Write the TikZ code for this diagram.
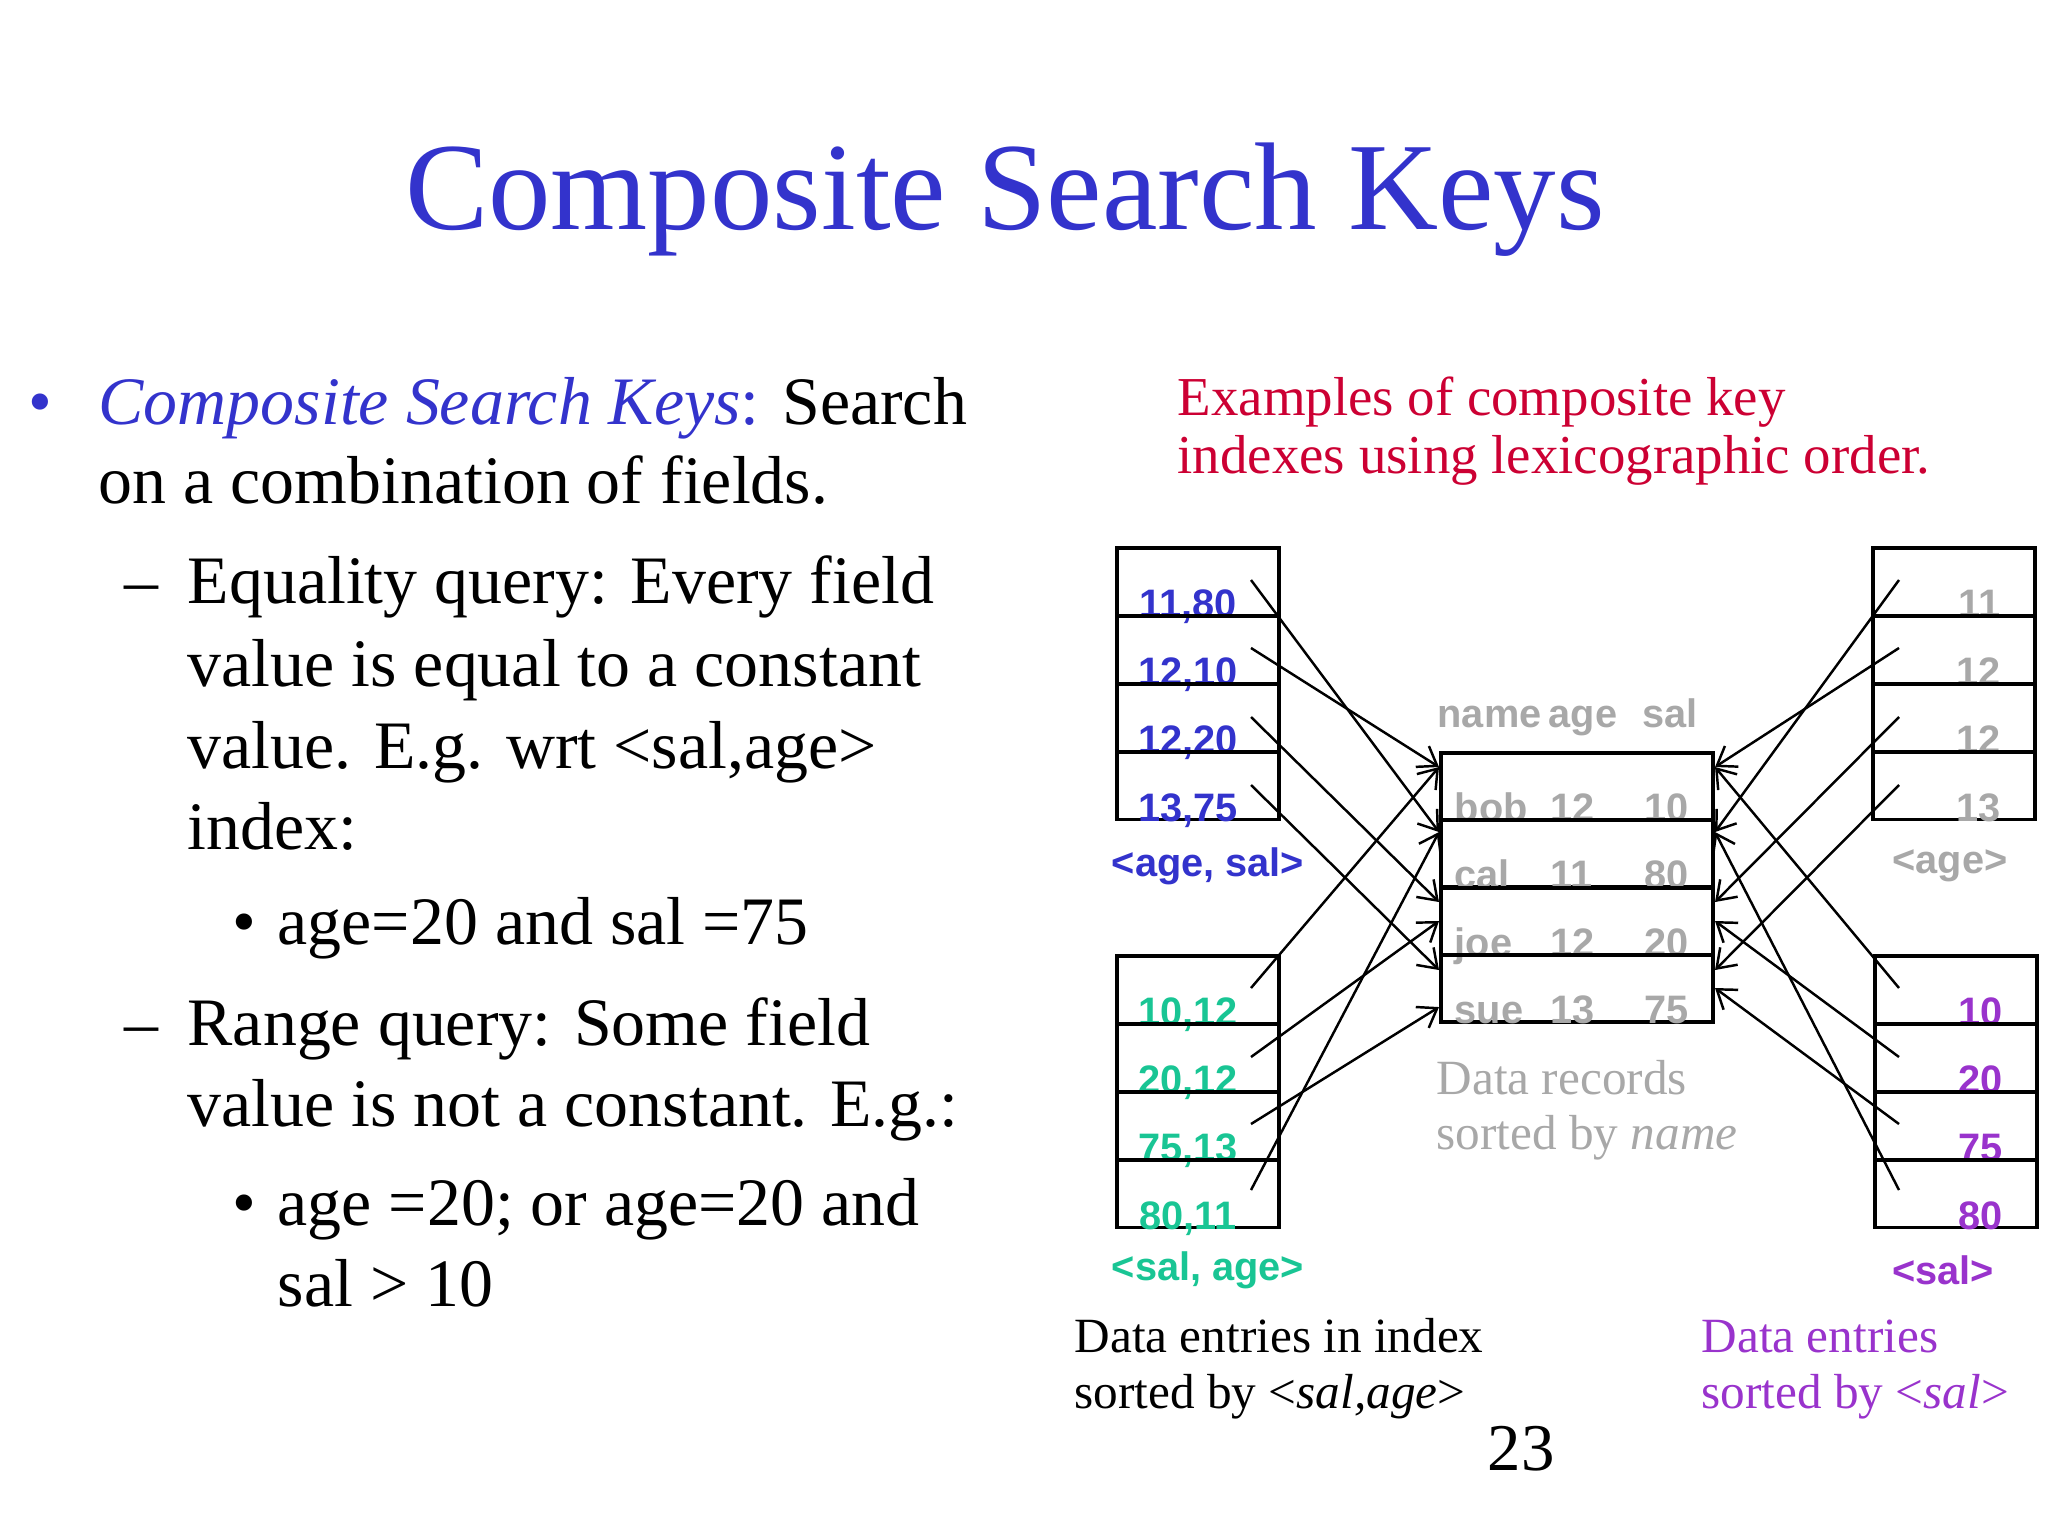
\documentclass[tikz,border=0pt]{standalone}
\usepackage{fontspec}
\setmainfont{Liberation Serif}
\setsansfont{Liberation Sans}
\usetikzlibrary{arrows.meta}
\definecolor{tblue}{HTML}{3333CC}
\definecolor{tgreen}{HTML}{19C594}
\definecolor{tpurple}{HTML}{9933CC}
\definecolor{tgray}{HTML}{A8A8A8}
\definecolor{tred}{HTML}{CC0033}
\tikzset{
  body/.style={anchor=base west,inner sep=0,font=\fontsize{19.3}{22}\selectfont},
  captxt/.style={anchor=base west,inner sep=0,font=\fontsize{14}{16}\selectfont},
  cell/.style={draw,line width=1.1pt,minimum width=1.62cm,minimum height=0.675cm,inner sep=0,anchor=north west},
  mcell/.style={draw,line width=1.1pt,minimum width=2.72cm,minimum height=0.67cm,inner sep=0,anchor=north west},
  ktxt/.style={inner sep=0,font=\sffamily\bfseries\fontsize{11.3}{13}\selectfont},
  arr/.style={-{Straight Barb[length=5pt,width=7pt]},line width=0.7pt}
}
\begin{document}
\begin{tikzpicture}[x=0.01cm,y=-0.01cm]
\useasboundingbox (0,0) rectangle (2048,1536);
\node[inner sep=0,anchor=base,text=tblue,font=\fontsize{35.5}{40}\selectfont] (title) at (1005,229) {Composite Search Keys};
% left text
\node[body,text=tblue] (b1) at (28,424) {•};
\node[body] (l1) at (98,424) {\textcolor{tblue}{\textit{Composite Search Keys}:} Search};
\node[body] (l2) at (98,503) {on a combination of fields.};
\node[body] (d1) at (124,603) {–};
\node[body] (l3) at (187,603) {Equality query: Every field};
\node[body] (l4) at (187,686) {value is equal to a constant};
\node[body] (l5) at (187,768) {value. E.g. wrt <sal,age>};
\node[body] (l6) at (187,849) {index:};
\node[body] (b2) at (232,944) {•};
\node[body] (l7) at (277,944) {age=20 and sal =75};
\node[body] (d2) at (124,1045) {–};
\node[body] (l8) at (187,1045) {Range query: Some field};
\node[body] (l9) at (187,1126) {value is not a constant. E.g.:};
\node[body] (b3) at (232,1225) {•};
\node[body] (l10) at (277,1225) {age =20; or age=20 and};
\node[body] (l11) at (277,1306) {sal > 10};
% red caption
\node[captxt,text=tred,font=\fontsize{15.6}{18}\selectfont] (r1) at (1177,415) {Examples of composite key};
\node[captxt,text=tred,font=\fontsize{15.6}{18}\selectfont] (r2) at (1177,473) {indexes using lexicographic order.};
% left top box
\foreach \i/\y/\t in {1/546/{11,80},2/614/{12,10},3/682/{12,20},4/750/{13,75}}{
  \node[cell] (lt\i) at (1115,\y) {};
  \node[ktxt,text=tblue,anchor=base] (ltt\i) at ([xshift=-0.1cm]lt\i.south) {\t};
}
\node[ktxt,text=tblue] (ltl) at (1208,866) {<age, sal>};
% left bottom box
\foreach \i/\y/\t in {1/954/{10,12},2/1022/{20,12},3/1090/{75,13},4/1158/{80,11}}{
  \node[cell] (lb\i) at (1115,\y) {};
  \node[ktxt,text=tgreen,anchor=base] (lbt\i) at ([xshift=-0.1cm]lb\i.south) {\t};
}
\node[ktxt,text=tgreen] (lbl) at (1208,1270) {<sal, age>};
% right top box
\foreach \i/\y/\t in {1/546/11,2/614/12,3/682/12,4/750/13}{
  \node[cell] (rt\i) at (1871,\y) {};
  \node[ktxt,text=tgray,anchor=base east] (rtt\i) at ([xshift=-0.36cm]rt\i.south east) {\t};
}
\node[ktxt,text=tgray] (rtl) at (1950,866) {<age>};
% right bottom box
\foreach \i/\y/\t in {1/954/10,2/1022/20,3/1090/75,4/1158/80}{
  \node[cell] (rb\i) at (1873,\y) {};
  \node[ktxt,text=tpurple,anchor=base east] (rbt\i) at ([xshift=-0.36cm]rb\i.south east) {\t};
}
\node[ktxt,text=tpurple] (rbl) at (1943,1270) {<sal>};
% middle box
\node[ktxt,text=tgray,anchor=base west] (hn) at (1437,727) {name};
\node[ktxt,text=tgray,anchor=base west] (ha) at (1548,727) {age};
\node[ktxt,text=tgray,anchor=base west] (hs) at (1642,727) {sal};
\foreach \i/\y/\na/\nb/\nc in {1/751/bob/12/10,2/818/cal/11/80,3/886/joe/12/20,4/953/sue/13/75}{
  \node[mcell] (m\i) at (1439,\y) {};
  \node[ktxt,text=tgray,anchor=base west] (ma\i) at ([xshift=0.15cm]m\i.south west) {\na};
  \node[ktxt,text=tgray,anchor=base west] (mb\i) at ([xshift=1.11cm]m\i.south west) {\nb};
  \node[ktxt,text=tgray,anchor=base west] (mc\i) at ([xshift=2.05cm]m\i.south west) {\nc};
}
\node[captxt,text=tgray] (dr1) at (1436,1094) {Data records};
\node[captxt,text=tgray] (dr2) at (1436,1149) {sorted by \textit{name}};
\node[captxt] (de1) at (1074,1352) {Data entries in index};
\node[captxt] (de2) at (1074,1408) {sorted by <\textit{sal,age}>};
\node[captxt,text=tpurple] (dp1) at (1701,1352) {Data entries};
\node[captxt,text=tpurple] (dp2) at (1701,1408) {sorted by <\textit{sal}>};
\node[inner sep=0,anchor=base,font=\fontsize{19}{22}\selectfont] (pg) at (1521,1470) {23};
% arrow start coordinates
\foreach \i/\y in {1/580,2/648,3/717,4/785}{
  \coordinate (sl\i) at (1251,\y);
  \coordinate (sr\i) at (1899,\y);
}
\foreach \i/\y in {1/988,2/1057,3/1124,4/1190}{
  \coordinate (sbl\i) at (1251,\y);
  \coordinate (sbr\i) at (1899,\y);
}
% left arrows
\draw[arr] (sl1) -- ([yshift=-0.14cm]m2.north west);
\draw[arr] (sl2) -- ([yshift=-0.16cm]m1.north west);
\draw[arr] (sl3) -- ([yshift=-0.16cm]m3.north west);
\draw[arr] (sl4) -- ([yshift=-0.17cm]m4.north west);
\draw[arr] (sbl1) -- ([yshift=-0.16cm]m1.north west);
\draw[arr] (sbl2) -- ([yshift=-0.35cm]m3.north west);
\draw[arr] (sbl3) -- ([yshift=-0.54cm]m4.north west);
\draw[arr] (sbl4) -- ([yshift=-0.14cm]m2.north west);
% right arrows
\draw[arr] (sr1) -- ([yshift=-0.14cm]m2.north east);
\draw[arr] (sr2) -- ([yshift=-0.16cm]m1.north east);
\draw[arr] (sr3) -- ([yshift=-0.16cm]m3.north east);
\draw[arr] (sr4) -- ([yshift=-0.17cm]m4.north east);
\draw[arr] (sbr1) -- ([yshift=-0.16cm]m1.north east);
\draw[arr] (sbr2) -- ([yshift=-0.35cm]m3.north east);
\draw[arr] (sbr3) -- ([yshift=-0.35cm]m4.north east);
\draw[arr] (sbr4) -- ([yshift=-0.14cm]m2.north east);
\end{tikzpicture}
\end{document}
